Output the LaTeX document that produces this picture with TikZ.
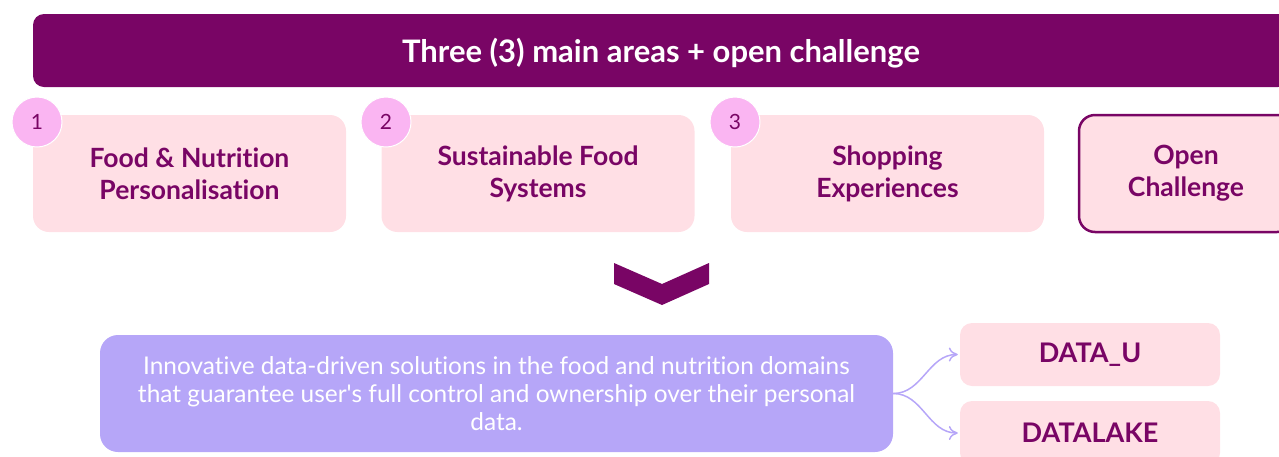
\documentclass[tikz,border=0pt]{standalone}
\usepackage{fontspec}
\setmainfont{Lato}[Ligatures={NoCommon}]
\usepackage{tikz}
\usetikzlibrary{arrows.meta,positioning}
\definecolor{plum}{HTML}{790565}
\definecolor{blush}{HTML}{FFDFE5}
\definecolor{orchid}{HTML}{FAB5F2}
\definecolor{lilac}{HTML}{B6A6F8}
\tikzstyle{banner} = [rectangle, fill=plum, text=white, rounded corners=11pt,
    minimum width=1256pt, minimum height=73pt, font=\fontsize{31}{36}\selectfont\bfseries]
\tikzstyle{area} = [rectangle, fill=blush, text=plum, rounded corners=16pt,
    minimum width=313pt, minimum height=117pt, align=center,
    font=\fontsize{26.5}{32}\selectfont\bfseries]
\tikzstyle{open} = [area, draw=plum, line width=2.5pt, minimum width=214pt]
\tikzstyle{badge} = [circle, fill=orchid, draw=white, line width=1pt, text=plum,
    minimum size=50pt, inner sep=0pt, font=\fontsize{21}{24}\selectfont]
\tikzstyle{goal} = [rectangle, fill=lilac, text=white, rounded corners=18pt,
    minimum width=793pt, minimum height=117pt, align=center,
    font=\fontsize{24.4}{28}\selectfont]
\tikzstyle{tool} = [rectangle, fill=blush, text=plum, rounded corners=12pt,
    minimum width=260pt, minimum height=63pt, font=\fontsize{27}{30}\selectfont\bfseries]
\tikzstyle{link} = [-{To[length=9pt,width=14pt]}, lilac, line width=1.5pt]

\begin{document}
\begin{tikzpicture}[x=1pt, y=-1pt]
    \useasboundingbox (0,0) rectangle (1279,456);
    \clip (0,0) rectangle (1279,456);
    % Place nodes
    \node [banner] (title) at (661,50.5)
    {\raisebox{-3pt}[\height][\depth]{Three (3) main areas + open challenge}};
    \node [area] (food) at (189.5,173.5)
    {Food \& Nutrition\\Personalisation};
    \node [area] (sustain) at (538,173.5)
    {Sustainable Food\\Systems};
    \node [area] (shop) at (887.5,173.5)
    {Shopping\\Experiences};
    \node [open] (challenge) at (1186,173.5)
    {Open\\Challenge};
    \node [badge] (num1) at (37,122) {1};
    \node [badge] (num2) at (386,122) {2};
    \node [badge] (num3) at (735,122) {3};
    % Chevron
    \fill [plum] (614,263) -- (662,284) -- (709,263) -- (709,284)
        -- (662,305) -- (614,284) -- cycle;
    \node [goal] (goal) at (496.5,393.5)
    {Innovative data-driven solutions in the food and nutrition domains\\
    that guarantee user\textquotesingle s full control and ownership over their personal\\
    data.};
    \node [tool] (datau) at (1090,354.5) {DATA\_U};
    \node [tool, minimum height=64pt] (datalake) at (1090,433) {DATALAKE};
    % Draw edges
    \draw [link] (goal.east) to[out=0, in=180] ([xshift=-2pt]datau.west);
    \draw [link] (goal.east) to[out=0, in=180] ([xshift=-2pt]datalake.west);
\end{tikzpicture}
\end{document}
